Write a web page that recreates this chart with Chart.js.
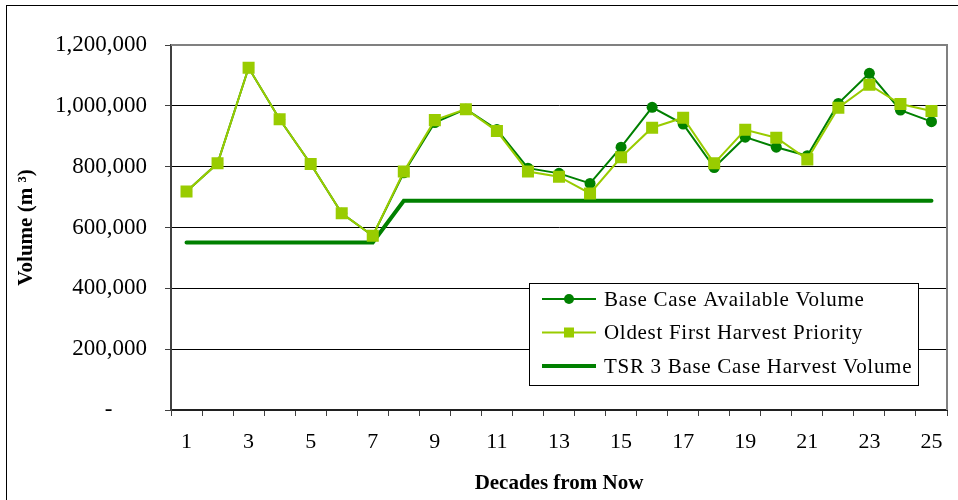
<!DOCTYPE html>
<html>
<head>
<meta charset="utf-8">
<script src="https://cdn.jsdelivr.net/npm/chart.js@4.4.0/dist/chart.umd.min.js"></script>
<style>
    html, body { margin: 0; padding: 0; background: #fff; }
    #wrap { position: relative; width: 958px; height: 500px; overflow: hidden; }
    #frame { position: absolute; left: 6px; top: 5px; width: 1000px; height: 600px; border: 1px solid #000; box-sizing: border-box; pointer-events: none; }
    canvas { position: absolute; left: 0; top: 0; }
</style>
</head>
<body>
<div id="wrap">
    <div id="frame"></div>
    <canvas id="volumeChart" width="958" height="500"></canvas>
</div>
<script>
// Decades from now (x axis categories)
const decades = ['1','2','3','4','5','6','7','8','9','10','11','12','13','14','15','16','17','18','19','20','21','22','23','24','25'];

// Volumes in m3
const baseCaseVolume = [718000, 811000, 1125000, 956000, 809000, 647000, 573000, 780000, 945000, 989000,
    922000, 795000, 778000, 745000, 864000, 995000, 940000, 797000, 897000, 864000,
    836000, 1008000, 1107000, 986000, 948000];
const oldestFirstVolume = [718000, 811000, 1125000, 956000, 809000, 647000, 573000, 784000, 953000, 989000,
    917000, 784000, 767000, 712000, 831000, 928000, 961000, 811000, 921000, 895000,
    824000, 994000, 1069000, 1006000, 983000];
const tsrHarvestVolume = [551000, 551000, 551000, 551000, 551000, 551000, 551000, 688000, 688000, 688000,
    688000, 688000, 688000, 688000, 688000, 688000, 688000, 688000, 688000, 688000,
    688000, 688000, 688000, 688000, 688000];

const yTicks = [0, 200000, 400000, 600000, 800000, 1000000, 1200000];

const DARK_GREEN = '#008000';
const LIGHT_GREEN = '#99CC00';
const SERIF = '"Liberation Serif", "Times New Roman", serif';

// grey frame on top and right of the plot area
const plotFrame = {
    id: 'plotFrame',
    beforeDatasetsDraw(chart) {
        const a = chart.chartArea;
        const ctx = chart.ctx;
        ctx.save();
        ctx.strokeStyle = '#808080';
        ctx.lineWidth = 2;
        ctx.beginPath();
        ctx.moveTo(a.left, a.top);
        ctx.lineTo(a.right, a.top);
        ctx.lineTo(a.right, a.bottom);
        ctx.stroke();
        ctx.restore();
    }
};

// legend box drawn inside the plot area
const boxLegend = {
    id: 'boxLegend',
    afterDraw(chart) {
        const ctx = chart.ctx;
        const a = chart.chartArea;
        const x0 = a.left + 358, y0 = a.top + 238, w = 389, h = 102;
        ctx.save();
        ctx.fillStyle = '#fff';
        ctx.fillRect(x0, y0, w, h);
        ctx.strokeStyle = '#000';
        ctx.lineWidth = 1;
        ctx.strokeRect(x0 + 0.5, y0 + 0.5, w, h);
        ctx.font = '21px ' + SERIF;
        ctx.letterSpacing = '0.7px';
        ctx.textBaseline = 'middle';
        chart.data.datasets.forEach((ds, i) => {
            const cy = y0 + 16 + i * 33.5;
            ctx.strokeStyle = ds.borderColor;
            ctx.lineWidth = ds.borderWidth;
            ctx.beginPath();
            ctx.moveTo(x0 + 13, cy);
            ctx.lineTo(x0 + 67, cy);
            ctx.stroke();
            ctx.fillStyle = ds.pointBackgroundColor;
            if (ds.pointStyle === 'circle' && ds.pointRadius > 0) {
                ctx.beginPath();
                ctx.arc(x0 + 40, cy, 5, 0, Math.PI * 2);
                ctx.fill();
            } else if (ds.pointStyle === 'rect') {
                ctx.fillRect(x0 + 35, cy - 5, 10, 10);
            }
            ctx.fillStyle = '#000';
            ctx.fillText(ds.label, x0 + 75, cy + 1);
        });
        ctx.restore();
    }
};

const ctx = document.getElementById('volumeChart');

new Chart(ctx, {
    type: 'line',
    data: {
        labels: decades,
        datasets: [{
            label: 'Base Case Available Volume',
            data: baseCaseVolume,
            borderColor: DARK_GREEN,
            backgroundColor: DARK_GREEN,
            pointBackgroundColor: DARK_GREEN,
            pointBorderColor: DARK_GREEN,
            borderWidth: 2,
            pointStyle: 'circle',
            pointRadius: 5.5,
            pointBorderWidth: 0,
            tension: 0,
            order: 1
        }, {
            label: 'Oldest First Harvest Priority',
            data: oldestFirstVolume,
            borderColor: LIGHT_GREEN,
            backgroundColor: LIGHT_GREEN,
            pointBackgroundColor: LIGHT_GREEN,
            pointBorderColor: LIGHT_GREEN,
            borderWidth: 2,
            pointStyle: 'rect',
            pointRadius: 8.5,
            pointBorderWidth: 0,
            tension: 0,
            order: 0
        }, {
            label: 'TSR 3 Base Case Harvest Volume',
            data: tsrHarvestVolume,
            borderColor: DARK_GREEN,
            backgroundColor: DARK_GREEN,
            pointBackgroundColor: DARK_GREEN,
            borderWidth: 4,
            pointRadius: 0,
            pointStyle: false,
            tension: 0,
            borderCapStyle: 'round',
            order: 2
        }]
    },
    options: {
        responsive: false,
        animation: false,
        layout: {
            padding: { left: 10, top: 45, right: 11, bottom: 4 }
        },
        plugins: {
            legend: { display: false },
            tooltip: { enabled: false }
        },
        scales: {
            x: {
                type: 'category',
                offset: true,
                grid: {
                    offset: true,
                    drawOnChartArea: false,
                    drawTicks: true,
                    tickLength: 6,
                    color: '#404040'
                },
                border: { color: '#202020', width: 2 },
                ticks: {
                    autoSkip: false,
                    maxRotation: 0,
                    padding: 13,
                    color: '#000',
                    font: { family: SERIF, size: 22 },
                    callback: function (val, index) {
                        return index % 2 === 0 ? this.getLabelForValue(val) : '';
                    }
                },
                title: {
                    display: true,
                    text: 'Decades from Now',
                    color: '#000',
                    font: { family: SERIF, size: 21, weight: 'bold' },
                    padding: { top: 0, bottom: 0 }
                },
                afterFit(scale) { scale.height = 86; }
            },
            y: {
                min: 0,
                max: 1200000,
                afterBuildTicks(scale) {
                    scale.ticks = yTicks.map(v => ({ value: v }));
                },
                grid: {
                    color: ctx => (ctx.tick && ctx.tick.value === 1200000) ? 'rgba(0,0,0,0)' : '#000',
                    lineWidth: 1,
                    tickLength: 6,
                    tickColor: '#404040'
                },
                border: { color: '#404040', width: 2 },
                ticks: {
                    padding: 18,
                    color: '#000',
                    font: { family: SERIF, size: 23 },
                    callback: v => v === 0 ? '-      ' : v.toLocaleString('en-US')
                },
                title: {
                    display: true,
                    text: 'Volume (m ³)',
                    color: '#000',
                    font: { family: SERIF, size: 21, weight: 'bold' },
                    padding: { top: 4, bottom: 0 }
                },
                afterFit(scale) { scale.width = 161; }
            }
        }
    },
    plugins: [plotFrame, boxLegend]
});
</script>
</body>
</html>
